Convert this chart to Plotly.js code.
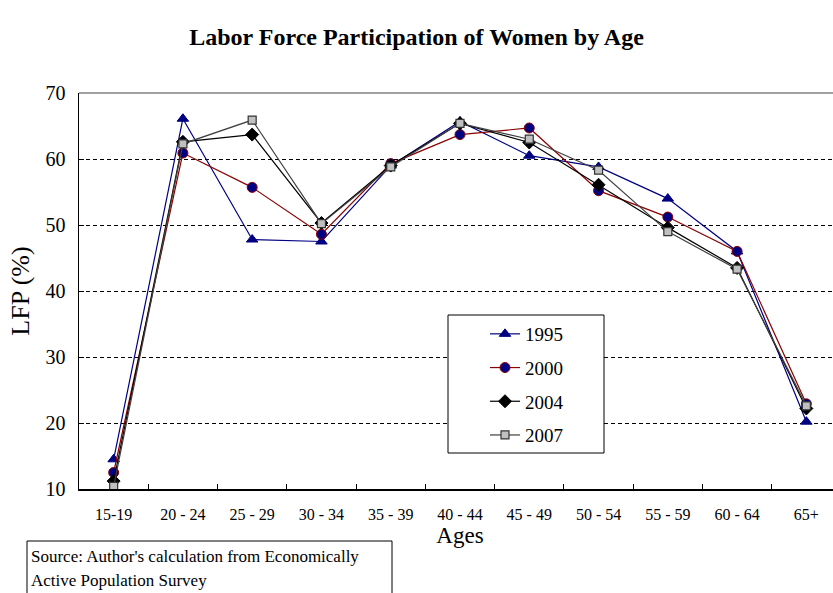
<!DOCTYPE html>
<html>
<head>
<meta charset="utf-8">
<script src="https://cdn.plot.ly/plotly-3.0.1.min.js"></script>
<style>
html,body{margin:0;padding:0;overflow:hidden;background:#fff;}
#chart{width:845px;height:593px;}
</style>
</head>
<body>
<div id="chart"></div>
<script>
const ages = ['15-19','20 - 24','25 - 29','30 - 34','35 - 39','40 - 44','45 - 49','50 - 54','55 - 59','60 - 64','65+'];
const y1995 = [14.5, 66.1, 47.8, 47.5, 59.0, 65.7, 60.5, 58.8, 54.0, 46.0, 20.2];
const y2000 = [12.5, 60.9, 55.7, 48.6, 59.3, 63.7, 64.7, 55.2, 51.2, 46.0, 22.9];
const y2004 = [11.2, 62.6, 63.7, 50.3, 59.0, 65.4, 62.5, 56.1, 49.6, 43.5, 22.2];
const y2007 = [10.4, 62.3, 65.9, 50.2, 58.8, 65.4, 63.0, 58.3, 49.0, 43.3, 22.6];
const seriesNames = ['1995','2000','2004','2007'];
const yTicks = [10,20,30,40,50,60,70];

const serif = 'Liberation Serif';

const traces = [
  {x: ages, y: y1995, name: seriesNames[0], mode: 'lines+markers', legendgroup: 'a',
   line: {color: '#000080', width: 1.2},
   marker: {symbol: 'triangle-up', size: 10, color: '#000080', line: {color: '#000080', width: 1}}},
  {x: ages, y: y2000, name: seriesNames[1], mode: 'lines+markers', legendgroup: 'b',
   line: {color: '#8B0000', width: 1.2},
   marker: {symbol: 'circle', size: 10, color: '#000080', line: {color: '#8B0000', width: 1}}},
  {x: ages, y: y2004, name: seriesNames[2], mode: 'lines+markers', legendgroup: 'c',
   line: {color: '#000000', width: 1.2},
   marker: {symbol: 'diamond', size: 10, color: '#000000', line: {color: '#000000', width: 1}}},
  {x: ages, y: y2007, name: seriesNames[3], mode: 'lines+markers', legendgroup: 'd',
   line: {color: '#404040', width: 1.2},
   marker: {symbol: 'square', size: 8, color: '#C0C0C0', line: {color: '#333333', width: 1.2}}}
];

const layout = {
  width: 845, height: 593,
  margin: {l: 79, r: 4, t: 93, b: 104},
  paper_bgcolor: '#ffffff', plot_bgcolor: '#ffffff',
  font: {family: serif, color: '#000'},
  title: {text: '<b>Labor Force Participation of Women by Age</b>', font: {family: serif, size: 24, color: '#000'},
          x: (416.5-79)/762, xanchor: 'center', y: 1 - 37/593, yanchor: 'middle', xref: 'paper'},
  showlegend: true,
  legend: {x: (485-79)/762, y: (489-315)/396, xanchor: 'left', yanchor: 'top',
           bgcolor: 'rgba(0,0,0,0)', borderwidth: 0, font: {family: serif, size: 19, color: '#000'},
           traceorder: 'grouped', tracegroupgap: 6},
  xaxis: {type: 'category', range: [-0.5, 10.5], tickson: 'boundaries', ticks: 'inside', ticklen: 5,
          tickcolor: '#000', tickwidth: 1, showline: true, linecolor: '#000', linewidth: 1.5,
          showgrid: false, zeroline: false, fixedrange: true,
          tickfont: {family: serif, size: 16, color: '#000'}, ticklabelstandoff: 10,
          title: {text: 'Ages', font: {family: serif, size: 23, color: '#000'}, standoff: 2}},
  yaxis: {range: [10, 70], tickvals: yTicks, ticks: 'inside', ticklen: 5, tickcolor: '#000',
          showline: true, linecolor: '#000', linewidth: 1.5, zeroline: false,
          showgrid: true, gridcolor: '#000', gridwidth: 1, griddash: '4px,3px',
          tickfont: {family: serif, size: 20, color: '#000'}, ticklabelstandoff: 8,
          title: {text: 'LFP (%)', font: {family: serif, size: 26, color: '#000'}, standoff: 8}},
  shapes: [
    {type: 'line', xref: 'paper', yref: 'paper', x0: 0, x1: 1, y0: 1, y1: 1,
     line: {color: '#808080', width: 1.5}},
    {type: 'rect', xref: 'paper', yref: 'paper', layer: 'above',
     x0: (448-79)/762, x1: (604-79)/762, y0: (489-315)/396, y1: (489-453)/396,
     fillcolor: '#ffffff', line: {color: '#000', width: 1}},
    {type: 'rect', xref: 'paper', yref: 'paper',
     x0: (27-79)/762, x1: (392-79)/762, y0: (489-541)/396, y1: (489-610)/396,
     fillcolor: 'rgba(0,0,0,0)', line: {color: '#000', width: 1}}
  ],
  annotations: [
    {text: "Source: Author's calculation from Economically", xref: 'paper', yref: 'paper',
     x: (29-79)/762, y: (489-556)/396, xanchor: 'left', yanchor: 'middle', showarrow: false,
     font: {family: serif, size: 17, color: '#000'}},
    {text: 'Active Population Survey', xref: 'paper', yref: 'paper',
     x: (29-79)/762, y: (489-580)/396, xanchor: 'left', yanchor: 'middle', showarrow: false,
     font: {family: serif, size: 17, color: '#000'}}
  ]
};

Plotly.newPlot('chart', traces, layout, {displayModeBar: false, staticPlot: true});
</script>
</body>
</html>
